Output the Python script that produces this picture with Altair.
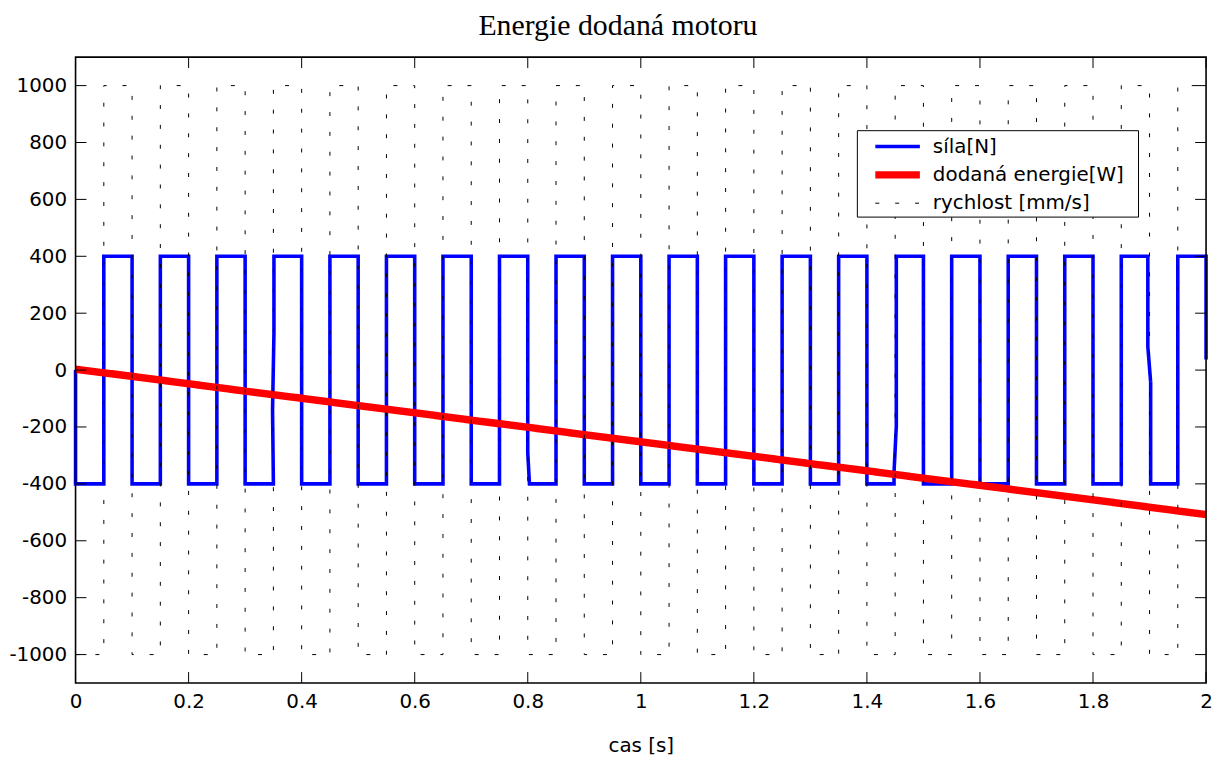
import altair as alt
import pandas as pd

# ---------------- data ----------------
title_text = "Energie dodaná motoru"
x_title = "cas [s]"
series_names = ["síla[N]", "dodaná energie[W]", "rychlost [mm/s]"]
series_colors = ["#0000ff", "#ff0000", "#000000"]
series_widths = [3.6, 7.5, 1]
series_dashes = [[1, 0], [1, 0], [4, 16]]

# instants where force and velocity switch sign [s]
switch_times = [0.05, 0.1, 0.15, 0.2, 0.25, 0.3, 0.35, 0.4, 0.45, 0.5,
                0.55, 0.6, 0.65, 0.7, 0.75, 0.8, 0.85, 0.9, 0.95, 1.0,
                1.05, 1.1, 1.15, 1.2, 1.25, 1.3, 1.35, 1.4, 1.45, 1.5,
                1.55, 1.6, 1.65, 1.7, 1.75, 1.8, 1.85, 1.9, 1.95]
# force level in each interval between switches [N]
force_levels = [-400, 400] * 20
force_start = 0
force_end = 37
# switches where the force trace is not perfectly vertical
force_kinks = {
    0.35: [(0.35, -400), (0.3485, -140), (0.351, 130), (0.351, 400)],
    0.8: [(0.8, 400), (0.8, -290), (0.803, -400)],
    1.45: [(1.448, -400), (1.448, -358), (1.452, -197), (1.452, 400)],
    1.9: [(1.897, 400), (1.897, 82), (1.902, -43), (1.902, -400)],
}
# velocity level in each interval [mm/s]
velocity_levels = [-1000, 1000] * 20

# supplied energy [W]
energy_t = [0.0, 0.1, 0.2, 0.3, 0.4, 0.5, 0.6, 0.7, 0.8, 0.9, 1.0,
            1.1, 1.2, 1.3, 1.4, 1.5, 1.6, 1.7, 1.8, 1.9, 2.0]
energy_values = [3, -22, -48, -74, -99, -125, -150, -176, -201, -227, -252,
                 -278, -303, -329, -354, -380, -405, -431, -456, -482, -508]

tick_x = [0, 0.2, 0.4, 0.6, 0.8, 1, 1.2, 1.4, 1.6, 1.8, 2]
tick_y = [-1000, -800, -600, -400, -200, 0, 200, 400, 600, 800, 1000]

# ---------------- build tables ----------------
f_pts = [(0.0, force_start), (0.0, force_levels[0])]
for k, ts in enumerate(switch_times):
    if ts in force_kinks:
        f_pts += force_kinks[ts]
    else:
        f_pts += [(ts, force_levels[k]), (ts, force_levels[k + 1])]
f_pts += [(2.0, force_levels[-1]), (2.0, force_end)]

v_pts = [(0.0, velocity_levels[0])]
for k, ts in enumerate(switch_times):
    v_pts += [(ts, velocity_levels[k]), (ts, velocity_levels[k + 1])]
v_pts += [(2.0, velocity_levels[-1])]

e_pts = list(zip(energy_t, energy_values))


def table(pts, name):
    return pd.DataFrame({
        "t": [p[0] for p in pts],
        "v": [p[1] for p in pts],
        "i": list(range(len(pts))),
        "series": name,
    })


df_force = table(f_pts, series_names[0])
df_energy = table(e_pts, series_names[1])
df_vel = table(v_pts, series_names[2])

W, H = 1138, 630
FONT = "DejaVu Sans"

xs = alt.Scale(domain=[0, 2], nice=False, zero=False)
ys = alt.Scale(domain=[-1100, 1100], nice=False, zero=False)

x_axis = alt.Axis(values=tick_x, labelExpr="'' + datum.value", title=x_title,
                  ticks=False, domain=False, grid=False, labelPadding=9,
                  titlePadding=24, labelFontSize=20, titleFontSize=20,
                  labelFont=FONT, titleFont=FONT, titleFontWeight="normal",
                  labelColor="black", titleColor="black", labelFlush=False)
y_axis = alt.Axis(values=tick_y, labelExpr="'' + datum.value", title=None,
                  ticks=False, domain=False, grid=False, labelPadding=9,
                  labelFontSize=20, labelFont=FONT, labelColor="black",
                  labelFlush=False)

leg = alt.Legend(title=None, orient="none", legendX=787, legendY=74,
                 symbolType="M-3.45,0H3.45", symbolSize=169,
                 labelFont=FONT, labelFontSize=20, labelColor="black",
                 padding=6, rowPadding=3, symbolOffset=24, labelOffset=25,
                 labelLimit=400)

color_scale = alt.Scale(domain=series_names, range=series_colors)
width_scale = alt.Scale(type="ordinal", domain=series_names, range=series_widths)
dash_scale = alt.Scale(domain=series_names, range=series_dashes)


def line_layer(df):
    return alt.Chart(df).mark_line(strokeJoin="miter").encode(
        x=alt.X("t:Q", scale=xs, axis=x_axis),
        y=alt.Y("v:Q", scale=ys, axis=y_axis),
        order=alt.Order("i:Q"),
        color=alt.Color("series:N", scale=color_scale, legend=leg),
        strokeWidth=alt.StrokeWidth("series:N", scale=width_scale, legend=leg),
        strokeDash=alt.StrokeDash("series:N", scale=dash_scale, legend=leg),
    )


df_tx = pd.DataFrame({"t": tick_x})
df_ty = pd.DataFrame({"v": tick_y})
TL = 11
tick_bottom = alt.Chart(df_tx).mark_rule(color="black", strokeWidth=1).encode(
    x=alt.X("t:Q", scale=xs, axis=x_axis), y=alt.value(H), y2=alt.value(H - TL))
tick_top = alt.Chart(df_tx).mark_rule(color="black", strokeWidth=1).encode(
    x=alt.X("t:Q", scale=xs, axis=x_axis), y=alt.value(0), y2=alt.value(TL))
tick_left = alt.Chart(df_ty).mark_rule(color="black", strokeWidth=1).encode(
    y=alt.Y("v:Q", scale=ys, axis=y_axis), x=alt.value(0), x2=alt.value(TL))
tick_right = alt.Chart(df_ty).mark_rule(color="black", strokeWidth=1).encode(
    y=alt.Y("v:Q", scale=ys, axis=y_axis), x=alt.value(W), x2=alt.value(W - TL))

one_row = pd.DataFrame({"k": [0]})
# black box round the plot area
frame = alt.Chart(one_row).mark_rect(
    filled=False, stroke="black", strokeWidth=1.6
).encode(x=alt.value(0), x2=alt.value(W), y=alt.value(0), y2=alt.value(H))

# legend frame (legend symbols and labels are drawn on top of it)
legend_box = alt.Chart(one_row).mark_rect(
    fill="white", stroke="black", strokeWidth=1
).encode(x=alt.value(787), x2=alt.value(1070),
         y=alt.value(74), y2=alt.value(161))

# chart title, centred a little left of the plot centre as in the original
title_mark = alt.Chart(one_row).mark_text(
    font="Liberation Serif", fontSize=30, fontWeight="normal",
    align="center", baseline="alphabetic", color="black"
).encode(x=alt.value(546), y=alt.value(-22), text=alt.value(title_text))

chart = alt.layer(
    line_layer(df_force), line_layer(df_energy), line_layer(df_vel),
    tick_bottom, tick_top, tick_left, tick_right, frame, legend_box,
    title_mark,
).properties(
    width=W, height=H,
    autosize=alt.AutoSizeParams(type="none"),
    padding={"left": 68, "top": 47, "right": 9, "bottom": 73},
).configure(
    background="white",
    view=alt.ViewConfig(strokeWidth=0),
)

chart.save("out.html", embed_options={"renderer": "svg", "actions": False})
